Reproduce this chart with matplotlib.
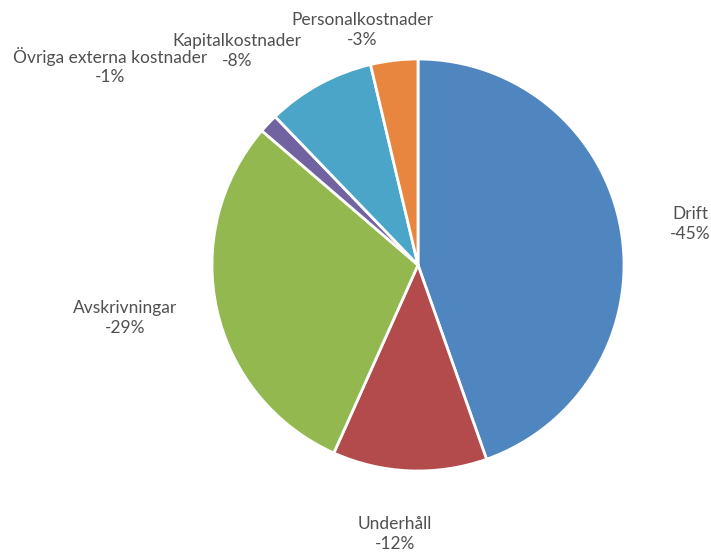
import matplotlib.pyplot as plt

# Kostnadsfördelning (andelar)
kategorier = ['Drift', 'Underhåll', 'Avskrivningar', 'Övriga externa kostnader',
              'Kapitalkostnader', 'Personalkostnader']
andelar = [44.6, 12.1, 29.6, 1.5, 8.5, 3.7]
procent = [45, 12, 29, 1, 8, 3]
farger = ['#4f86c0', '#b34a4c', '#92b84f', '#7063a0', '#4aa5c8', '#e8863f']

# etikettpositioner i pixlar (x, y från toppen)
etikett_pos = [(690, 224), (395, 534), (125, 318), (110, 66), (237, 51), (362, 30)]

plt.rcParams['font.family'] = ['Lato', 'DejaVu Sans']

fig = plt.figure(figsize=(7.11, 5.59), dpi=100)
ax = fig.add_axes([0, 0, 1, 1])

ax.pie(andelar, colors=farger, startangle=90, counterclock=False,
       center=(418, 559 - 265), radius=206,
       wedgeprops={'edgecolor': 'white', 'linewidth': 2})

ax.set_xlim(0, 711)
ax.set_ylim(0, 559)
ax.set_aspect('equal')
ax.axis('off')

for namn, p, (x, y) in zip(kategorier, procent, etikett_pos):
    ax.text(x, 559 - y, f'{namn}\n-{p}%', ha='center', va='center',
            fontsize=12.5, color='#505050', linespacing=1.3)

fig.savefig('out.png', dpi=100)
